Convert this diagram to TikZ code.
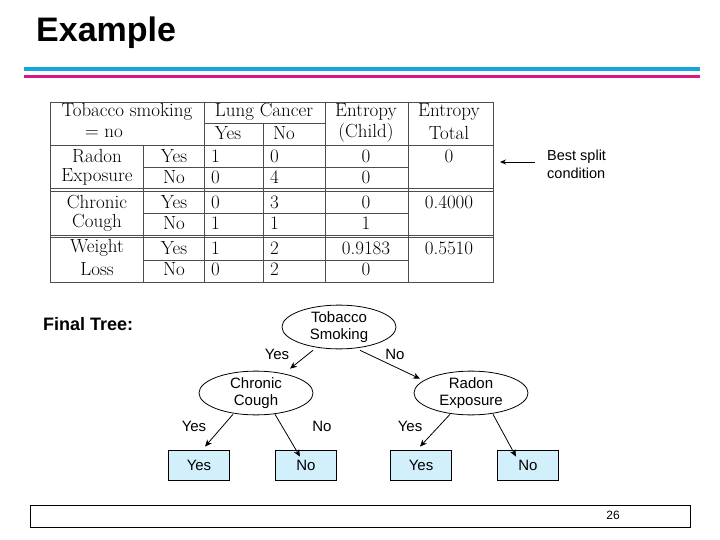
\documentclass[tikz,border=0pt]{standalone}
\usepackage{fontspec}
\setsansfont{Liberation Sans}
\usetikzlibrary{shapes.geometric,arrows.meta}
\begin{document}
\begin{tikzpicture}[x=1pt,y=-1pt,
  tb/.style={font=\fontsize{19}{19}\selectfont\rmfamily,inner sep=0pt},
  sf/.style={font=\fontsize{15}{16}\selectfont\sffamily,inner sep=0pt,align=center},
  ell/.style={ellipse,draw,thick,minimum width=114pt,minimum height=40pt,inner sep=0pt,font=\fontsize{15}{17}\selectfont\sffamily,align=center},
  leaf/.style={draw,thick,fill=cyan!18,minimum width=61pt,minimum height=30pt,font=\fontsize{15}{16}\selectfont\sffamily},
  arr/.style={thick,-{Stealth[length=7pt,width=6pt]}}]
\useasboundingbox (0,0) rectangle (720,540);
% title
\node[anchor=west,inner sep=0pt,font=\fontsize{34}{34}\selectfont\sffamily\bfseries] (title) at (36,33) {Example};
\fill[cyan!80!teal] (24,67) rectangle (700,71);
\fill[magenta!80!violet] (24,75) rectangle (700,78);
% table
\draw[gray!60!black,thick] (50,102) rectangle (493,282);
\draw[gray!60!black] (204,102)--(204,282) (325,102)--(325,282) (408,102)--(408,282) (143,145)--(143,282)
 (204,123)--(325,123) (263,123)--(263,282)
 (50,145)--(493,145) (50,188)--(493,188) (50,191)--(493,191) (50,235)--(493,235) (50,237)--(493,237)
 (143,167)--(408,167) (143,213)--(408,213) (143,260)--(408,260);
\node[tb] (h1) at (127,112) {Tobacco smoking};
\node[tb] (h2) at (104,133) {= no};
\node[tb] (h3) at (264,112) {Lung Cancer};
\node[tb] (h4) at (228,133) {Yes};
\node[tb] (h5) at (284,133) {No};
\node[tb] (h6) at (366,112) {Entropy};
\node[tb] (h7) at (366,133) {(Child)};
\node[tb] (h8) at (449,112) {Entropy};
\node[tb] (h9) at (449,133) {Total};
\foreach \y/\a/\b/\c/\d/\e/\f/\g [count=\i] in {156/Radon/Yes/1/0/0/0/Exposure, 202/Chronic/Yes/0/3/0/0.4000/Cough, 248/Weight/Yes/1/2/0.9183/0.5510/Loss}{
 \node[tb] (ra\i) at (97,\y) {\a};
 \node[tb] (rb\i) at (97,\y+21) {\g};
 \node[tb] (ry\i) at (174,\y) {Yes};
 \node[tb] (rn\i) at (174,\y+21) {No};
 \node[tb,anchor=west] (c1\i) at (211,\y) {\c};
 \node[tb,anchor=west] (c2\i) at (270,\y) {\d};
 \node[tb] (c3\i) at (366,\y) {\e};
 \node[tb] (c4\i) at (449,\y) {\f};
}
\node[tb,anchor=west] (d11) at (211,177) {0};
\node[tb,anchor=west] (d21) at (270,177) {4};
\node[tb] (d31) at (366,177) {0};
\node[tb,anchor=west] (d12) at (211,223) {1};
\node[tb,anchor=west] (d22) at (270,223) {1};
\node[tb] (d32) at (366,223) {1};
\node[tb,anchor=west] (d13) at (211,269) {0};
\node[tb,anchor=west] (d23) at (270,269) {2};
\node[tb] (d33) at (366,269) {0};
% best split
\node[sf,align=left,anchor=west,font=\fontsize{14.5}{18}\selectfont\sffamily] (best) at (547,164) {Best split\\condition};
\coordinate (bt) at (500,162);
\coordinate (bs) at (535,162);
\draw[thick,-{Stealth[length=6pt,width=5pt]}] (bs) -- (bt);
% tree
\node[anchor=west,inner sep=0pt,font=\fontsize{18}{18}\selectfont\sffamily\bfseries] (ft) at (43,324) {Final Tree:};
\node[ell] (tob) at (339,327) {Tobacco\\Smoking};
\node[ell] (cc) at (256,393) {Chronic\\Cough};
\node[ell] (rad) at (471,393) {Radon\\Exposure};
\node[leaf] (l1) at (199,465) {Yes};
\node[leaf] (l2) at (306,465) {No};
\node[leaf] (l3) at (421,465) {Yes};
\node[leaf] (l4) at (528,465) {No};
\draw[arr] ([xshift=-26pt,yshift=-1pt]tob.south) -- ([xshift=34pt,yshift=2pt]cc.north);
\draw[arr] ([xshift=21pt,yshift=-1pt]tob.south) -- ([xshift=-51pt,yshift=-8pt]rad.north);
\draw[arr] ([xshift=-23pt,yshift=1pt]cc.south) -- ([xshift=6pt,yshift=3pt]l1.north);
\draw[arr] ([xshift=19pt,yshift=1pt]cc.south) -- ([xshift=-6pt,yshift=-7pt]l2.north);
\draw[arr] ([xshift=-21pt,yshift=1pt]rad.south) -- ([xshift=-1pt,yshift=3pt]l3.north);
\draw[arr] ([xshift=22pt,yshift=1pt]rad.south) -- ([xshift=-12pt,yshift=-7pt]l4.north);
\node[sf] (e1) at (277,354) {Yes};
\node[sf] (e2) at (395,354) {No};
\node[sf] (e3) at (194,426) {Yes};
\node[sf] (e4) at (322,426) {No};
\node[sf] (e5) at (410,426) {Yes};
% footer
\draw[thick] (30,505) rectangle (690,527);
\node[sf,font=\fontsize{12}{12}\selectfont\sffamily] (pg) at (613,515) {26};
\end{tikzpicture}
\end{document}
